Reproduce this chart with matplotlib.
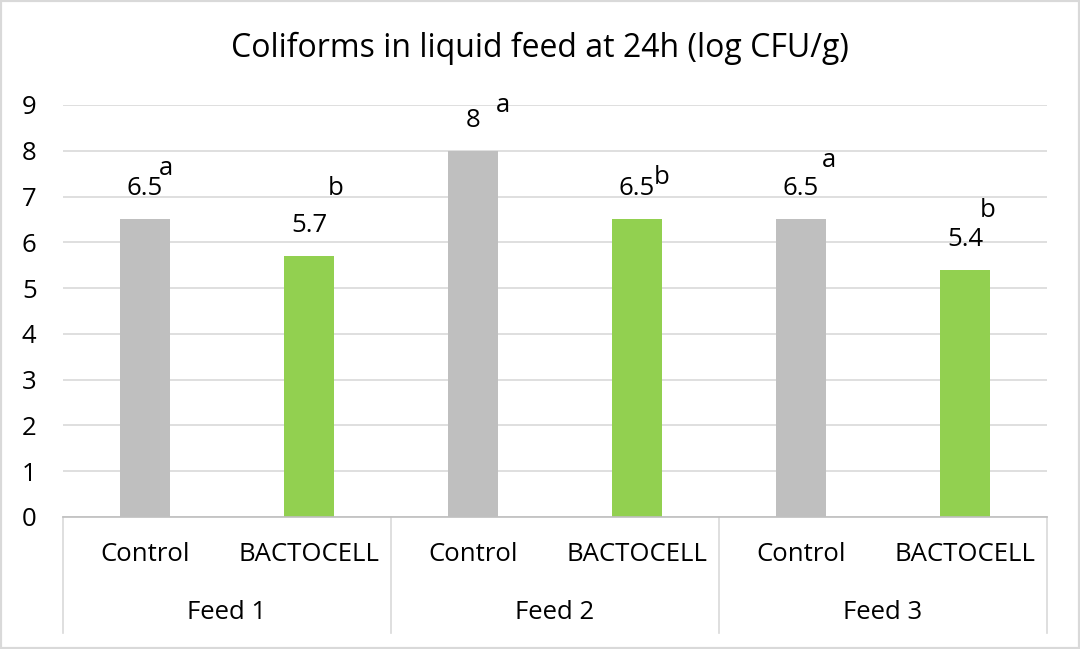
import matplotlib.pyplot as plt
from matplotlib.patches import Rectangle
from matplotlib.lines import Line2D

# ── Data ──────────────────────────────────────────────────────────────────────
TITLE      = "Coliforms in liquid feed at 24h (log CFU/g)"
GROUPS     = ["Feed 1", "Feed 2", "Feed 3"]
TREATMENTS = ["Control", "BACTOCELL"]
VALUES     = [6.5, 5.7, 8.0, 6.5, 6.5, 5.4]
VALUE_TXT  = ["6.5", "5.7", "8", "6.5", "6.5", "5.4"]
LETTERS    = ["a", "b", "a", "b", "a", "b"]
# where the significance letters sit (data units: x shift from bar, y level)
LETTER_DX  = [0.13, 0.165, 0.18, 0.15, 0.17, 0.135]
LETTER_Y   = [7.62, 7.18, 9.0, 7.42, 7.79, 6.70]

COLORS = {"Control": "#bfbfbf", "BACTOCELL": "#92d050"}
GRID   = "#d9d9d9"
FONT   = "Open Sans"
FS     = 18.5

plt.rcParams['font.family'] = [FONT, 'DejaVu Sans']

# ── Figure ────────────────────────────────────────────────────────────────────
fig = plt.figure(figsize=(10.8, 6.49), dpi=100)
ax = fig.add_axes([63 / 1080, 1 - 517 / 649, 984 / 1080, 412 / 649])

labels = [t for _ in GROUPS for t in TREATMENTS]
xs = list(range(len(VALUES)))
ax.bar(xs, VALUES, width=0.31, color=[COLORS[t] for t in labels], zorder=2)

for x, v, txt in zip(xs, VALUES, VALUE_TXT):
    ax.annotate(txt, (x, v), xytext=(0, 22), textcoords='offset points',
                ha='center', va='center', fontsize=FS, color='#000000')

for x, dx, y, let in zip(xs, LETTER_DX, LETTER_Y, LETTERS):
    ax.text(x + dx, y, let, ha='center', va='center', fontsize=FS,
            clip_on=False)

ax.set_xlim(-0.5, len(VALUES) - 0.5)
ax.set_ylim(0, 9)
ax.set_yticks(range(10))
ax.tick_params(axis='y', length=0, pad=19, labelsize=FS)
ax.set_xticks([])
for s in ['top', 'right', 'left']:
    ax.spines[s].set_visible(False)
ax.spines['bottom'].set_color('#bfbfbf')
ax.spines['bottom'].set_linewidth(1.2)
ax.yaxis.grid(True, color=GRID, linewidth=1.2)
ax.set_axisbelow(True)

# two-level category axis
tr = ax.get_xaxis_transform()
for x, lab in zip(xs, labels):
    ax.text(x, -0.092, lab, transform=tr, ha='center', va='center',
            fontsize=FS, clip_on=False)
for i, g in enumerate(GROUPS):
    ax.text(2 * i + 0.5, -0.233, g, transform=tr, ha='center', va='center',
            fontsize=FS, clip_on=False)
for i in range(len(GROUPS) + 1):
    ax.add_line(Line2D([2 * i - 0.5] * 2, [0, -0.282], transform=tr,
                       color=GRID, linewidth=1.2, clip_on=False))

fig.text(0.5, 1 - 48 / 649, TITLE, ha='center', va='center', fontsize=23)

# outer border
fig.patches.append(Rectangle((0, 0), 1, 1, transform=fig.transFigure,
                             fill=False, edgecolor=GRID, linewidth=3))

fig.savefig('out.png', dpi=100)
